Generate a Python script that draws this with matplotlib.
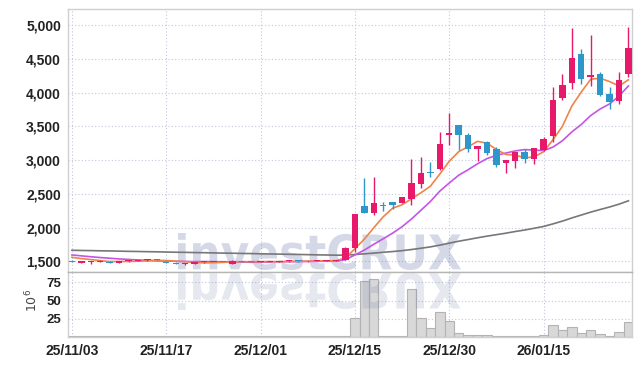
import matplotlib
matplotlib.use('Agg')
import matplotlib.pyplot as plt
import numpy as np
import pandas as pd
from matplotlib.textpath import TextPath
from matplotlib.patches import PathPatch
from matplotlib.font_manager import FontProperties
from matplotlib.transforms import Affine2D

# trading days (yy/mm/dd)
dates = ['25/11/03', '25/11/04', '25/11/05', '25/11/06', '25/11/07', '25/11/10', '25/11/11', '25/11/12', '25/11/13', '25/11/14',
         '25/11/17', '25/11/18', '25/11/19', '25/11/20', '25/11/21', '25/11/24', '25/11/25', '25/11/26', '25/11/27', '25/11/28',
         '25/12/01', '25/12/02', '25/12/03', '25/12/04', '25/12/05', '25/12/08', '25/12/09', '25/12/10', '25/12/11', '25/12/12',
         '25/12/15', '25/12/16', '25/12/17', '25/12/18', '25/12/19', '25/12/22', '25/12/23', '25/12/24', '25/12/26', '25/12/29',
         '25/12/30', '26/01/02', '26/01/05', '26/01/06', '26/01/07', '26/01/08', '26/01/09', '26/01/12', '26/01/13', '26/01/14',
         '26/01/15', '26/01/16', '26/01/19', '26/01/20', '26/01/21', '26/01/22', '26/01/23', '26/01/26', '26/01/27', '26/01/28']

opens = [1510, 1480, 1485, 1490, 1495, 1480, 1500, 1505, 1515, 1530,
         1495, 1480, 1460, 1460, 1485, 1488, 1490, 1460, 1500, 1495,
         1490, 1492, 1490, 1500, 1505, 1498, 1505, 1508, 1510, 1525,
         1697, 2316, 2217, 2341, 2376, 2366, 2425, 2647, 2817, 2861,
         3375, 3519, 3375, 3167, 3267, 3158, 2959, 2989, 3119, 3018,
         3148, 3360, 3920, 4147, 4573, 4237, 4276, 3980, 3880, 4271]
highs = [1515, 1505, 1500, 1515, 1500, 1505, 1510, 1515, 1540, 1535,
         1500, 1485, 1475, 1490, 1490, 1495, 1495, 1515, 1505, 1500,
         1498, 1500, 1505, 1510, 1510, 1510, 1515, 1515, 1520, 1706,
         2204, 2727, 2742, 2371, 2380, 2455, 3010, 3039, 2965, 3411,
         3693, 3521, 3405, 3214, 3282, 3188, 3003, 3124, 3158, 3179,
         3346, 4088, 4272, 4952, 4647, 4848, 4311, 4088, 4302, 4978]
lows = [1490, 1475, 1465, 1485, 1475, 1475, 1495, 1500, 1510, 1520,
        1475, 1455, 1440, 1455, 1480, 1482, 1482, 1455, 1490, 1485,
        1482, 1485, 1485, 1492, 1495, 1492, 1498, 1500, 1502, 1514,
        1638, 2209, 2183, 2242, 2276, 2360, 2327, 2584, 2743, 2847,
        3222, 3148, 3114, 2989, 3070, 2900, 2802, 2886, 2959, 2935,
        3129, 3271, 3890, 4054, 4123, 4099, 3950, 3754, 3831, 4237]
closes = [1495, 1500, 1495, 1510, 1480, 1500, 1505, 1510, 1533, 1525,
          1480, 1460, 1470, 1485, 1488, 1490, 1485, 1510, 1495, 1490,
          1492, 1496, 1500, 1505, 1500, 1505, 1510, 1512, 1515, 1697,
          2198, 2217, 2356, 2326, 2336, 2450, 2658, 2806, 2807, 3242,
          3395, 3371, 3169, 3207, 3108, 2930, 2999, 3119, 3009, 3173,
          3311, 3890, 4113, 4514, 4207, 4262, 3965, 3866, 4188, 4662]
# volume in millions of shares
volume = [0.5, 0.4, 0.3, 0.4, 0.3, 0.4, 0.3, 0.3, 0.6, 0.4,
          0.5, 0.6, 0.5, 0.4, 0.3, 0.3, 0.3, 0.5, 0.4, 0.3,
          0.3, 0.3, 0.3, 0.4, 0.3, 0.3, 0.4, 0.3, 0.5, 1.5,
          25.7, 76.6, 80.3, 1.2, 0.6, 1.5, 65.5, 25.7, 11.8, 34.0,
          21.0, 4.4, 2.3, 2.3, 2.0, 0.6, 0.5, 0.5, 0.5, 0.8,
          2.0, 16.4, 9.0, 12.8, 4.4, 9.0, 3.0, 1.5, 5.8, 19.7]

# moving-average values before a full window is available
ma5_head = [1559, 1540, 1525, 1510]
ma10_head = [1594, 1580, 1567, 1555, 1545, 1535, 1527, 1520, 1515]
ma60 = [1663, 1660, 1658, 1655, 1653, 1650, 1647, 1645, 1642, 1640,
        1637, 1634, 1632, 1629, 1627, 1624, 1621, 1619, 1616, 1614,
        1611, 1608, 1606, 1603, 1601, 1598, 1595, 1593, 1590, 1591,
        1600, 1610, 1621, 1633, 1644, 1657, 1674, 1693, 1713, 1739,
        1768, 1797, 1822, 1848, 1872, 1894, 1916, 1941, 1963, 1989,
        2016, 2054, 2095, 2142, 2185, 2228, 2267, 2304, 2346, 2396]

UP = '#e6196b'
DOWN = '#2e97c9'
GRID = '#c3c8dc'

plt.rcParams['font.family'] = ['Liberation Sans', 'DejaVu Sans']

o = np.array(opens, float)
h = np.array(highs, float)
l = np.array(lows, float)
c = np.array(closes, float)
x = np.arange(len(dates))

ma5 = pd.Series(c).rolling(5).mean().values
ma5[:4] = ma5_head
ma10 = pd.Series(c).rolling(10).mean().values
ma10[:9] = ma10_head

W, H = 642, 366
fig = plt.figure(figsize=(W / 100, H / 100), dpi=100)
ax = fig.add_axes([68 / W, 94 / H, 564 / W, 263 / H])
axv = fig.add_axes([68 / W, 29 / H, 564 / W, 65 / H], sharex=ax)

# candles
cols = np.where(c >= o, UP, DOWN)
ax.vlines(x, l, h, colors=cols, lw=1, zorder=3)
ax.bar(x, np.maximum(np.abs(c - o), 12), bottom=np.minimum(o, c), width=0.68,
       color=cols, zorder=4)

ax.plot(x, ma60, color='#777777', lw=1.2, zorder=2)
ax.plot(x, ma10, color='#c455e6', lw=1.2, zorder=2)
ax.plot(x, ma5, color='#f0834a', lw=1.2, zorder=2)

axv.bar(x, volume, width=1.0, color='#d8d8d8', edgecolor='#b3b3b3', lw=0.8, zorder=2)


def watermark(target, x0, x1, yb, yt, alpha, z):
    tp = TextPath((0, 0), 'investCRUX', size=10,
                  prop=FontProperties(family='DejaVu Sans', weight='bold'))
    ext = tp.get_extents()
    tr = (Affine2D().translate(-ext.x0, -ext.y0)
          .scale((x1 - x0) / ext.width, (yt - yb) / ext.height)
          .translate(x0, yb))
    p = PathPatch(tp, transform=tr, facecolor=(0.35, 0.40, 0.62), edgecolor='none',
                  alpha=alpha, zorder=z)
    target.add_patch(p)


watermark(ax, 178, 461, H - 270, H - 233, 0.25, 1.5)
watermark(axv, 178, 461, H - 272.5, H - 310, 0.15, 2.5)

ax.set_xlim(-0.42, 59.38)
ax.set_ylim(1341, 5238)
axv.set_ylim(-0.5, 89.5)

yt = list(range(1500, 5001, 500))
ax.set_yticks(yt)
ax.set_yticklabels([f'{v:,}' for v in yt])
axv.set_yticks([25, 50, 75])
axv.set_xticks(x[::10])
axv.set_xticklabels(dates[::10])

for a in (ax, axv):
    a.set_axisbelow(True)
    a.grid(True, color=GRID, ls=(0, (1, 2)), lw=0.8)
    a.tick_params(length=0, colors='#222222', labelsize=10, pad=5)
    for lab in a.get_xticklabels() + a.get_yticklabels():
        lab.set_fontweight('bold')
    for s in a.spines.values():
        s.set_color('#cfcfcf')
        s.set_linewidth(1)
ax.tick_params(labelbottom=False)
axv.tick_params(axis='y', labelsize=9.5)
axv.spines['top'].set_color('#b5b5b5')

fig.text(32 / W, 1 - 300 / H, r'$10^6$', rotation=90, ha='center', va='center',
         fontsize=9, color='#444444')

fig.savefig('out.png', dpi=100)
